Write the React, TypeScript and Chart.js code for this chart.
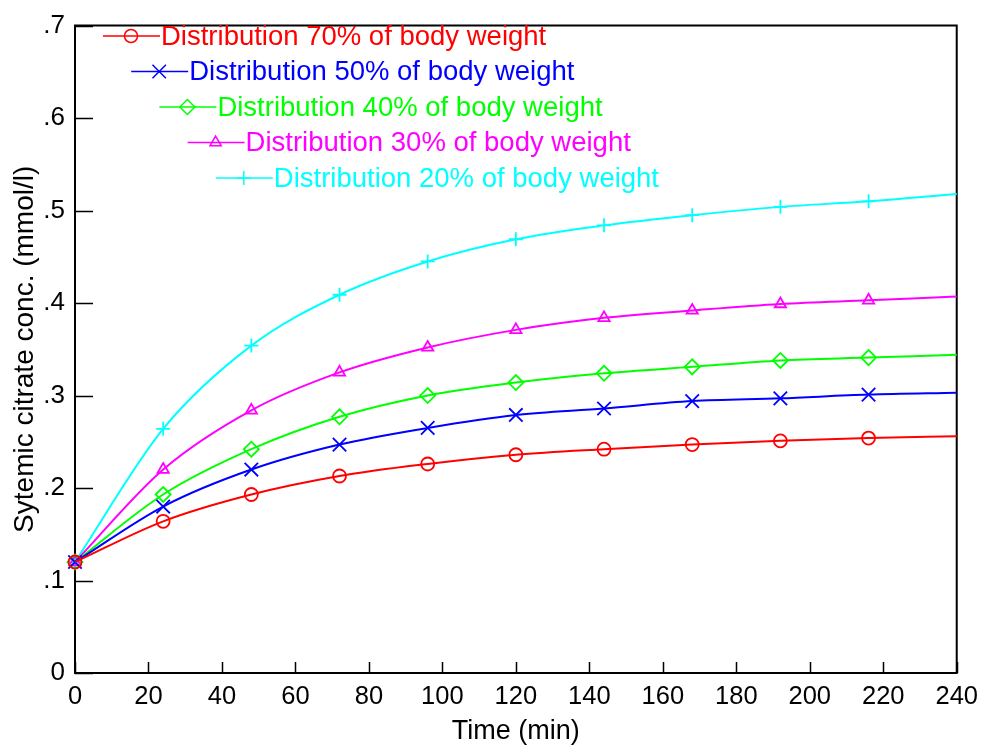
import React, { useEffect, useRef } from 'react';
import { Chart, registerables } from 'chart.js';
import { drawPoint } from 'chart.js/helpers';

Chart.register(...registerables);

// ---- data ----
const times = [0, 24, 48, 72, 96, 120, 144, 168, 192, 216, 240];
const dist70 = [0.12, 0.164, 0.193, 0.213, 0.226, 0.236, 0.242, 0.247, 0.251, 0.254, 0.256];
const dist50 = [0.12, 0.18, 0.22, 0.247, 0.265, 0.279, 0.286, 0.294, 0.297, 0.301, 0.303];
const dist40 = [0.12, 0.193, 0.242, 0.277, 0.3, 0.314, 0.324, 0.331, 0.338, 0.341, 0.344];
const dist30 = [0.12, 0.22, 0.284, 0.325, 0.352, 0.371, 0.384, 0.392, 0.399, 0.403, 0.407];
const dist20 = [0.12, 0.264, 0.354, 0.409, 0.445, 0.469, 0.484, 0.495, 0.504, 0.51, 0.518];
const markerCount = 10; // markers at 0..216, none at 240

const seriesLabels = [
  'Distribution 70% of body weight',
  'Distribution 50% of body weight',
  'Distribution 40% of body weight',
  'Distribution 30% of body weight',
  'Distribution 20% of body weight',
];
const seriesValues = [dist70, dist50, dist40, dist30, dist20];
const seriesColors = ['#ff0000', '#0000ff', '#00ff00', '#ff00ff', '#00ffff'];
const seriesStyles = ['circle', 'crossRot', 'rectRot', 'triangle', 'cross'];
const seriesRadius = [6.5, 9.5, 7.5, 6.5, 7];

const xTickValues = [0, 20, 40, 60, 80, 100, 120, 140, 160, 180, 200, 220, 240];
const yTickValues = [0, 0.1, 0.2, 0.3, 0.4, 0.5, 0.6, 0.7];
const yTickLabels = ['0', '.1', '.2', '.3', '.4', '.5', '.6', '.7'];

const xTitle = 'Time (min)';
const yTitle = 'Sytemic citrate conc. (mmol/l)';

const FONT = '"Liberation Sans", Arial, Helvetica, sans-serif';

const framePlugin = {
  id: 'frame',
  beforeDatasetsDraw(chart: any) {
    const { ctx, chartArea, scales } = chart;
    const { left, right, top, bottom } = chartArea;
    ctx.save();
    ctx.strokeStyle = '#000';
    ctx.lineWidth = 1.5;
    ctx.beginPath();
    for (const v of yTickValues) {
      const py = Math.round(scales.y.getPixelForValue(v)) + 0.5;
      ctx.moveTo(left, py);
      ctx.lineTo(left + 18, py);
    }
    for (const v of xTickValues) {
      const px = Math.round(scales.x.getPixelForValue(v)) + 0.5;
      ctx.moveTo(px, bottom);
      ctx.lineTo(px, bottom - 11);
    }
    ctx.stroke();
    ctx.lineWidth = 2;
    ctx.beginPath();
    ctx.rect(left, top, right - left, bottom - top);
    ctx.stroke();
    ctx.restore();
  },
};

const legendPlugin = {
  id: 'staggeredLegend',
  afterDraw(chart: any) {
    const { ctx } = chart;
    ctx.save();
    ctx.font = `27.5px ${FONT}`;
    ctx.textBaseline = 'middle';
    ctx.textAlign = 'left';
    seriesLabels.forEach((label, i) => {
      const y0 = 36 + i * 35.5;
      const x0 = 103 + i * 28.2;
      const color = seriesColors[i];
      ctx.strokeStyle = color;
      ctx.lineWidth = 1.5;
      ctx.beginPath();
      ctx.moveTo(x0, y0);
      ctx.lineTo(x0 + 57, y0);
      ctx.stroke();
      ctx.fillStyle = 'rgba(0,0,0,0)';
      drawPoint(
        ctx,
        { pointStyle: seriesStyles[i], radius: seriesRadius[i], borderWidth: 1.8, rotation: 0 } as any,
        x0 + 28,
        y0
      );
      ctx.fillStyle = color;
      ctx.fillText(label, x0 + 58, y0 + 1);
    });
    ctx.restore();
  },
};

export default function App() {
  const canvasRef = useRef<HTMLCanvasElement | null>(null);

  useEffect(() => {
    const canvas = canvasRef.current;
    if (!canvas) return;
    const datasets = seriesValues.map((vals, i) => ({
      label: seriesLabels[i],
      data: times.map((t, j) => ({ x: t, y: vals[j] })),
      borderColor: seriesColors[i],
      backgroundColor: 'rgba(0,0,0,0)',
      borderWidth: 2,
      pointStyle: seriesStyles[i],
      pointRadius: (c: any) => (c.dataIndex < markerCount ? seriesRadius[i] : 0),
      pointBorderWidth: 1.8,
      pointBorderColor: seriesColors[i],
      pointBackgroundColor: 'rgba(0,0,0,0)',
      cubicInterpolationMode: 'monotone' as const,
      clip: false as any,
      fill: false,
    }));

    const chart = new Chart(canvas, {
      type: 'line',
      data: { datasets },
      options: {
        responsive: false,
        animation: false,
        events: [],
        layout: { padding: { top: 19, right: 29, left: 0, bottom: 0 } },
        plugins: {
          legend: { display: false },
          tooltip: { enabled: false },
        },
        scales: {
          x: {
            type: 'linear',
            min: 0,
            max: 240,
            afterFit: (s: any) => {
              s.height = 78;
            },
            afterBuildTicks: (s: any) => {
              s.ticks = xTickValues.map((v) => ({ value: v }));
            },
            grid: { display: false, drawTicks: false },
            border: { display: false },
            ticks: {
              autoSkip: false,
              maxRotation: 0,
              padding: 9,
              color: '#000',
              font: { family: FONT, size: 25.5 },
              callback: (v: any) => String(v),
            },
            title: {
              display: true,
              text: xTitle,
              color: '#000',
              font: { family: FONT, size: 27 },
              padding: { top: 0, bottom: 3 },
            },
          },
          y: {
            type: 'linear',
            min: 0,
            max: 0.7,
            afterFit: (s: any) => {
              s.width = 75;
            },
            afterBuildTicks: (s: any) => {
              s.ticks = yTickValues.map((v) => ({ value: v }));
            },
            grid: { display: false, drawTicks: false },
            border: { display: false },
            ticks: {
              autoSkip: false,
              padding: 10,
              color: '#000',
              font: { family: FONT, size: 26 },
              callback: (_v: any, idx: number) => yTickLabels[idx],
            },
            title: {
              display: true,
              text: yTitle,
              color: '#000',
              font: { family: FONT, size: 28 },
              padding: { top: 8, bottom: 0 },
            },
          },
        },
      },
      plugins: [framePlugin, legendPlugin],
    });
    return () => chart.destroy();
  }, []);

  return (
    <div style={{ position: 'absolute', left: 0, top: 0, width: 987, height: 751, background: '#fff' }}>
      <canvas ref={canvasRef} width={987} height={751} style={{ display: 'block' }} />
    </div>
  );
}
